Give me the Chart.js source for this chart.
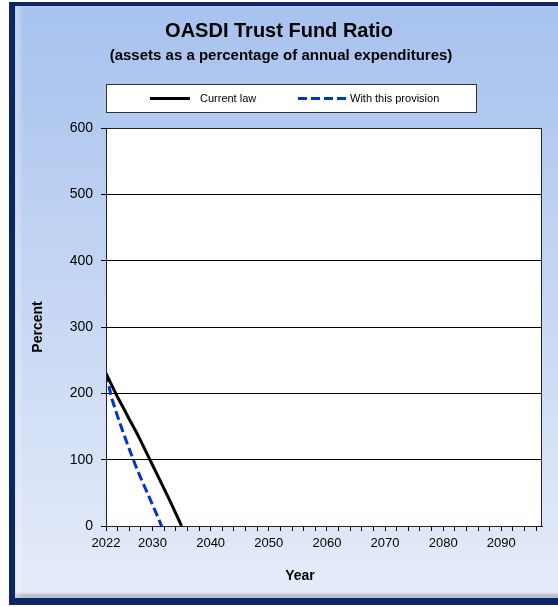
<!DOCTYPE html>
<html>
<head>
<meta charset="utf-8">
<script src="https://cdn.jsdelivr.net/npm/chart.js@4"></script>
<style>
  html, body { margin: 0; padding: 0; background: #fff; overflow: hidden; }
  #frame {
    position: absolute; left: 9px; top: 2px; width: 560px; height: 592px;
    border-left: 6px solid #0c2766; border-top: 4px solid #0c2766; border-bottom: 7px solid #0c2766;
    background: linear-gradient(#a7c2ee, #e6ecf9);
    box-shadow: inset 5px 0 4px rgba(255,255,255,0.35), inset 0 -4px 3px rgba(110,115,135,0.45);
  }
  #chart { position: absolute; left: 0; top: 0; }
</style>
</head>
<body>
<div id="frame"></div>
<canvas id="chart" width="558" height="607"></canvas>
<script>
/* ─── Data ───────────────────────────────────────────────────────────────── */
const SERIES_LABELS = ['Current law', 'With this provision'];
const CURRENT_YEARS  = [2022, 2023, 2024, 2025, 2026, 2027, 2028, 2029, 2030, 2031, 2032, 2033, 2034, 2035];
const CURRENT_VALUES = [ 230,  212,  194,  178,  161,  145,  128,  110,   92,   74,   56,   38,   19,    0];
const PROV_YEARS     = [2022, 2023, 2024, 2025, 2026, 2027, 2028, 2029, 2030, 2031, 2032];
const PROV_VALUES    = [ 230,  192,  165,  140,  116,   93,   72,   52,   32,   12,  -10];
const X_LABELED      = [2022, 2030, 2040, 2050, 2060, 2070, 2080, 2090];

const FONT = "'Liberation Sans', Arial, sans-serif";
const pts = (xs, ys) => xs.map((x, i) => ({ x, y: ys[i] }));

/* ─── Frame plugin: plot background, border, titles, legend box ─────────── */
const framePlugin = {
  id: 'frame',
  beforeDraw(chart) {
    const { ctx, chartArea: a } = chart;
    ctx.save();
    ctx.fillStyle = '#fff';
    ctx.fillRect(a.left, a.top, a.right - a.left, a.bottom - a.top);
    ctx.restore();
  },
  afterDraw(chart) {
    const { ctx, chartArea: a } = chart;
    ctx.save();
    ctx.strokeStyle = '#222';
    ctx.lineWidth = 1;
    ctx.strokeRect(a.left + 0.5, a.top + 0.5, a.right - a.left - 1, a.bottom - a.top);

    // titles
    ctx.fillStyle = '#000';
    ctx.textAlign = 'center';
    ctx.textBaseline = 'middle';
    ctx.font = `bold 20px ${FONT}`;
    ctx.fillText('OASDI Trust Fund Ratio', 279, 31);
    ctx.font = `bold 15px ${FONT}`;
    ctx.fillText('(assets as a percentage of annual expenditures)', 281, 56);
    ctx.font = `bold 14px ${FONT}`;
    ctx.fillText('Year', 300, 576);

    // legend
    ctx.fillStyle = '#fff';
    ctx.fillRect(106.5, 84.5, 370, 28);
    ctx.strokeStyle = '#333';
    ctx.strokeRect(106.5, 84.5, 370, 28);
    const ds = chart.data.datasets;
    const slots = [{ x0: 150, x1: 190, tx: 200 }, { x0: 298, x1: 346, tx: 350 }];
    ds.forEach((d, i) => {
      const s = slots[i];
      ctx.beginPath();
      ctx.strokeStyle = d.borderColor;
      ctx.lineWidth = 3;
      ctx.setLineDash(d.borderDash || []);
      ctx.moveTo(s.x0, 98.5);
      ctx.lineTo(s.x1, 98.5);
      ctx.stroke();
      ctx.setLineDash([]);
      ctx.fillStyle = '#000';
      ctx.textAlign = 'left';
      ctx.font = `11px ${FONT}`;
      ctx.fillText(d.label, s.tx, 99);
    });
    ctx.restore();
  }
};

/* ─── Chart ──────────────────────────────────────────────────────────────── */
new Chart(document.getElementById('chart'), {
  type: 'line',
  data: {
    datasets: [
      {
        label: SERIES_LABELS[0],
        data: pts(CURRENT_YEARS, CURRENT_VALUES),
        borderColor: '#000',
        borderWidth: 3,
        pointRadius: 0,
        tension: 0
      },
      {
        label: SERIES_LABELS[1],
        data: pts(PROV_YEARS, PROV_VALUES),
        borderColor: '#0033CC',
        borderWidth: 3,
        borderDash: [9, 4],
        pointRadius: 0,
        tension: 0
      }
    ]
  },
  options: {
    responsive: false,
    animation: false,
    layout: { padding: { top: 128, right: 16, left: 0, bottom: 0 } },
    plugins: {
      legend: { display: false },
      title: { display: false },
      tooltip: { enabled: false }
    },
    scales: {
      x: {
        type: 'linear',
        min: 2022,
        max: 2097,
        afterFit: s => { s.height = 81; },
        border: { color: '#000', width: 1 },
        grid: { drawOnChartArea: false, drawTicks: true, tickLength: 5, color: '#000' },
        ticks: {
          stepSize: 2,
          includeBounds: false,
          autoSkip: false,
          maxRotation: 0,
          padding: 5,
          color: '#000',
          font: { family: FONT, size: 13 },
          callback: v => X_LABELED.includes(v) ? String(v) : ''
        }
      },
      y: {
        min: 0,
        max: 600,
        afterFit: s => { s.width = 106; },
        border: { color: '#000', width: 1 },
        grid: { color: '#000', lineWidth: 1, tickLength: 5 },
        ticks: {
          stepSize: 100,
          padding: 8,
          color: '#000',
          font: { family: FONT, size: 14 }
        },
        title: {
          display: true,
          text: 'Percent',
          color: '#000',
          padding: { top: 30, bottom: 0 },
          font: { family: FONT, size: 14, weight: 'bold' }
        }
      }
    }
  },
  plugins: [framePlugin]
});
</script>
</body>
</html>
